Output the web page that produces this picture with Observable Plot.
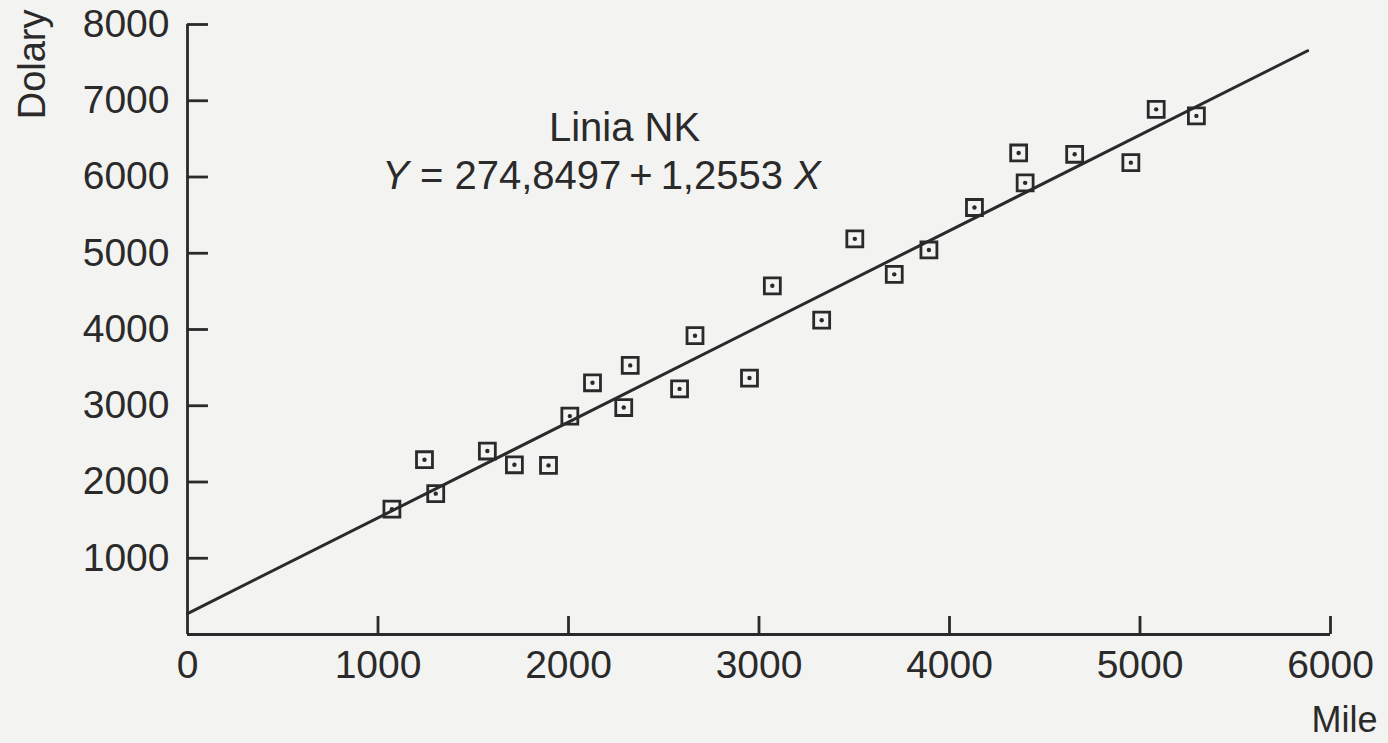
<!DOCTYPE html>
<html>
<head>
<meta charset="utf-8">
<script src="https://cdn.jsdelivr.net/npm/d3@7"></script>
<script src="https://cdn.jsdelivr.net/npm/@observablehq/plot@0.6"></script>
<style>
  html, body { margin: 0; padding: 0; background: #f3f3f1; overflow: hidden; }
  #chart svg { display: block; }
</style>
</head>
<body>
<div id="chart"></div>
<script>
// Observed data: miles (X) and dollars (Y)
const miles = [1073, 1244, 1303, 1574, 1716, 1895, 2007, 2126, 2290, 2324, 2583, 2664, 2950,
               3070, 3329, 3503, 3710, 3892, 4131, 4363, 4397, 4657, 4952, 5085, 5296];
const dollars = [1644, 2292, 1847, 2406, 2226, 2218, 2864, 3301, 2977, 3529, 3221, 3919, 3363,
                 4573, 4122, 5189, 4723, 5043, 5600, 6315, 5923, 6298, 6188, 6887, 6801];

// Regression line (as printed on the chart)
const intercept = 274.8497;
const slope = 1.2553;
const lineMiles = [0, 5880];

// Axis ticks
const xTicks = [0, 1000, 2000, 3000, 4000, 5000, 6000];
const yTicks = [1000, 2000, 3000, 4000, 5000, 6000, 7000, 8000];

// Texts
const titleText = "Linia NK";
const eqText = "Y = 274,8497+1,2553 X";
const xLabel = "Mile";
const yLabel = "Dolary";

const points = miles.map((m, i) => ({x: m, y: dollars[i]}));
const lineData = lineMiles.map(m => ({x: m, y: intercept + slope * m}));

const ink = "#2a2a2a";
const font = "'Liberation Sans', Arial, Helvetica, sans-serif";

const svg = Plot.plot({
  width: 1388,
  height: 743,
  marginLeft: 187,
  marginRight: 58,
  marginTop: 24,
  marginBottom: 109,
  style: {background: "#f3f3f1", color: ink, fontFamily: font, fontSize: "39px"},
  x: {domain: [0, 6000]},
  y: {domain: [0, 8000]},
  marks: [
    // axis lines
    Plot.ruleY([0], {x1: 0, x2: 6000, stroke: ink, strokeWidth: 2.8}),
    Plot.ruleX([0], {y1: 0, y2: 8000, stroke: ink, strokeWidth: 2.8}),
    // inward ticks
    Plot.ruleX(xTicks.filter(d => d > 0), {x: d => d, y1: 0, y2: 236, stroke: ink, strokeWidth: 2.8}),
    Plot.ruleY(yTicks, {y: d => d, x1: 0, x2: 110, stroke: ink, strokeWidth: 2.8}),
    // tick labels
    Plot.axisX({ticks: xTicks, tickSize: 0, tickPadding: 16, tickFormat: d => String(d), fontSize: 39, label: null}),
    Plot.axisY({ticks: yTicks, tickSize: 0, tickPadding: 18, tickFormat: d => String(d), fontSize: 39, label: null}),
    // axis titles
    Plot.text([yLabel], {frameAnchor: "top-left", rotate: -90, textAnchor: "end", lineAnchor: "middle",
      dx: -155, dy: -15, fontSize: 38, fill: ink}),
    Plot.text([xLabel], {frameAnchor: "bottom-right", textAnchor: "end", lineAnchor: "middle",
      dx: 47, dy: 86, fontSize: 36, fill: ink}),
    // regression line
    Plot.line(lineData, {x: "x", y: "y", stroke: ink, strokeWidth: 3}),
    // points: square with center dot
    Plot.dot(points, {x: "x", y: "y", symbol: "square", r: 9, stroke: ink, strokeWidth: 2.8, fill: "none"}),
    Plot.dot(points, {x: "x", y: "y", r: 2.2, fill: ink, stroke: "none"}),
    // annotation
    Plot.text([titleText], {x: [2294], y: [6636], fontSize: 40, fill: ink, lineAnchor: "middle"}),
    Plot.text([eqText], {x: [2173], y: [6007], fontSize: 40, fill: ink, lineAnchor: "middle"})
  ]
});

// italicise the variable names in the equation
d3.select(svg).selectAll("text").filter(function () { return this.textContent === eqText; })
  .each(function () {
    const t = d3.select(this);
    t.text(null);
    t.append("tspan").attr("font-style", "italic").text("Y");
    t.append("tspan").text(" = 274,8497\u2009+\u20091,2553 ");
    t.append("tspan").attr("font-style", "italic").text("X");
  });

document.getElementById("chart").appendChild(svg);
</script>
</body>
</html>
